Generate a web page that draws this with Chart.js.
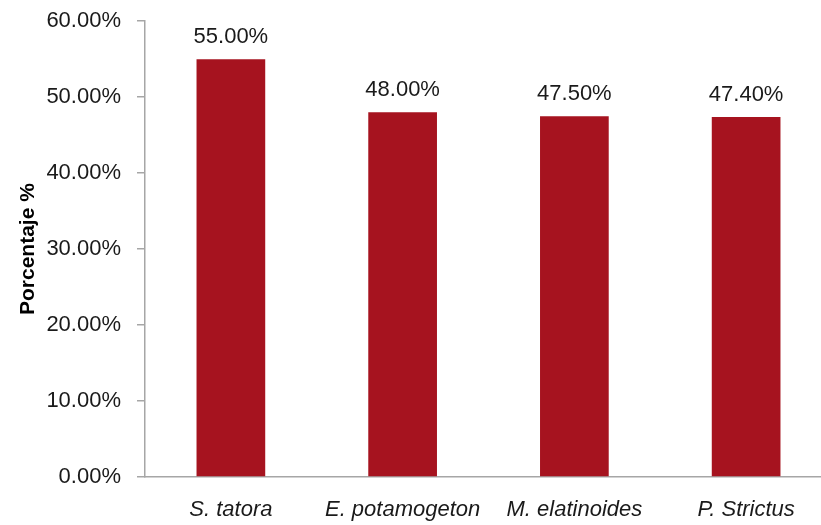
<!DOCTYPE html>
<html>
<head>
<meta charset="utf-8">
<script src="https://cdn.jsdelivr.net/npm/chart.js@4.4.0/dist/chart.umd.min.js"></script>
<style>
    html, body { margin: 0; padding: 0; background: #fff; overflow: hidden; }
    #wrap { width: 832px; height: 533px; margin-top: -8px; }
</style>
</head>
<body>
<div id="wrap"><canvas id="chart"></canvas></div>
<script>
const categories = ['S. tatora', 'E. potamogeton', 'M. elatinoides', 'P. Strictus'];
const porcentajes = [55.0, 48.0, 47.5, 47.4];
const yTicks = [0, 10, 20, 30, 40, 50, 60];

const FONT = "'Liberation Sans', Arial, sans-serif";
const AXIS_GREY = '#A6A6A6';

// etiquetas encima de cada barra
const valueLabels = {
    id: 'valueLabels',
    afterDatasetsDraw(chart) {
        const ctx = chart.ctx;
        const meta = chart.getDatasetMeta(0);
        ctx.save();
        ctx.font = '22px ' + FONT;
        ctx.fillStyle = '#1a1a1a';
        ctx.textAlign = 'center';
        ctx.textBaseline = 'alphabetic';
        meta.data.forEach((bar, i) => {
            ctx.fillText(porcentajes[i].toFixed(2) + '%', bar.x, bar.y - 16);
        });
        ctx.restore();
    }
};

const ctx = document.getElementById('chart').getContext('2d');
new Chart(ctx, {
    type: 'bar',
    data: {
        labels: categories,
        datasets: [{
            data: porcentajes,
            backgroundColor: '#A6131F',
            barPercentage: 0.4,
            categoryPercentage: 1.0
        }]
    },
    options: {
        responsive: true,
        maintainAspectRatio: false,
        animation: false,
        layout: { padding: { top: 11, left: 0, right: 0, bottom: 0 } },
        plugins: { legend: { display: false }, tooltip: { enabled: false } },
        scales: {
            x: {
                grid: { display: false },
                border: { display: true, color: AXIS_GREY, width: 1.5 },
                ticks: {
                    color: '#1a1a1a',
                    font: { family: FONT, size: 22, style: 'italic' },
                    padding: 12,
                    maxRotation: 0,
                    autoSkip: false
                },
                afterFit(scale) { scale.height = 48; }
            },
            y: {
                min: 0,
                max: 60,
                afterBuildTicks(scale) { scale.ticks = yTicks.map(v => ({ value: v })); },
                grid: { drawOnChartArea: false, drawTicks: true, tickLength: 8, color: AXIS_GREY, lineWidth: 1.5 },
                border: { display: true, color: AXIS_GREY, width: 1.5 },
                ticks: {
                    color: '#1a1a1a',
                    font: { family: FONT, size: 22 },
                    padding: 16,
                    callback: v => v.toFixed(2) + '%'
                },
                title: {
                    display: true,
                    text: 'Porcentaje %',
                    color: '#000',
                    font: { family: FONT, size: 21, weight: 'bold' },
                    padding: { top: 16, bottom: 4 }
                },
                afterFit(scale) { scale.width = 145; }
            }
        }
    },
    plugins: [valueLabels]
});
</script>
</body>
</html>
